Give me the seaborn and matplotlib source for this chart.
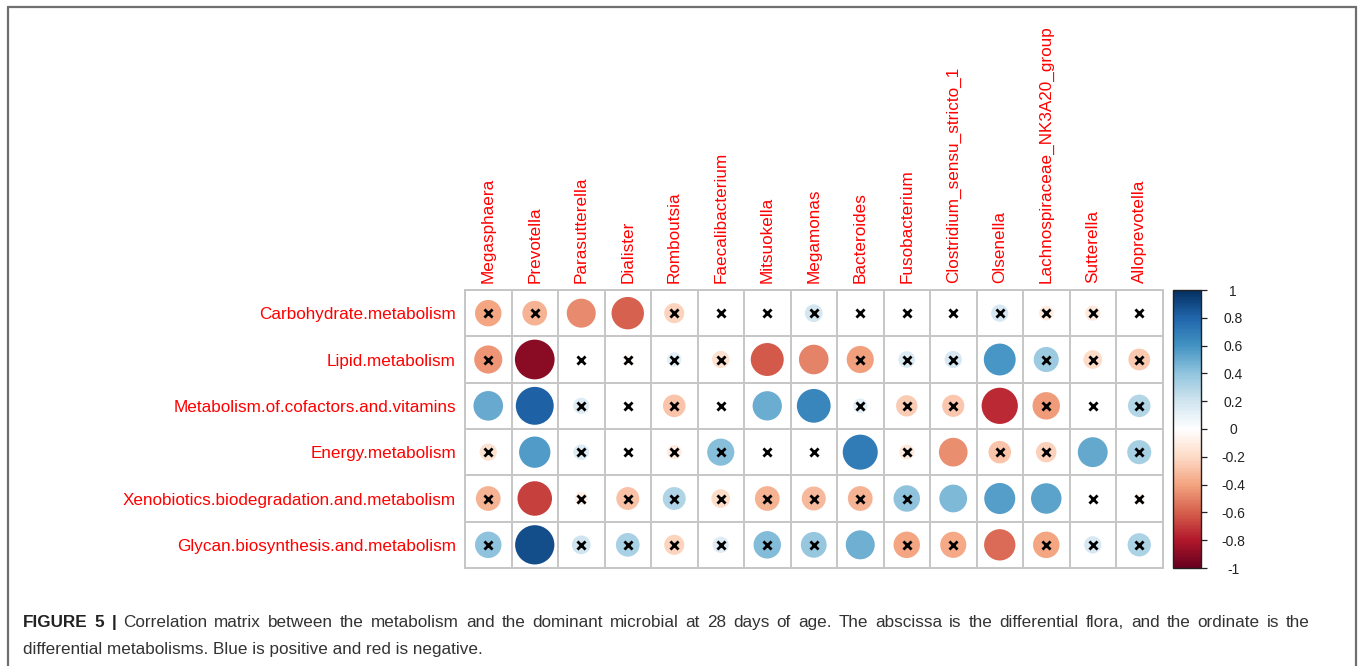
import numpy as np
import pandas as pd
import matplotlib
matplotlib.use("Agg")
import matplotlib.pyplot as plt
import matplotlib.colors as mcolors
from matplotlib.lines import Line2D
import seaborn as sns

sns.set_theme(style="white")
plt.rcParams["font.family"] = ["Liberation Sans", "DejaVu Sans"]

# ---- data -------------------------------------------------------------
metabolisms = [
    "Carbohydrate.metabolism",
    "Lipid.metabolism",
    "Metabolism.of.cofactors.and.vitamins",
    "Energy.metabolism",
    "Xenobiotics.biodegradation.and.metabolism",
    "Glycan.biosynthesis.and.metabolism",
]
genera = [
    "Megasphaera", "Prevotella", "Parasutterella", "Dialister", "Romboutsia",
    "Faecalibacterium", "Mitsuokella", "Megamonas", "Bacteroides",
    "Fusobacterium", "Clostridium_sensu_stricto_1", "Olsenella",
    "Lachnospiraceae_NK3A20_group", "Sutterella", "Alloprevotella",
]

r_carbohydrate = [-0.40, -0.35, -0.48, -0.60, -0.23, -0.02, 0.03, 0.18, 0.02, -0.02, 0.03, 0.17, -0.12, -0.13, 0.02]
r_lipid        = [-0.45, -0.90, 0.01, -0.06, 0.12, -0.17, -0.62, -0.50, -0.42, 0.16, 0.17, 0.58, 0.36, -0.20, -0.27]
r_cofactors    = [0.50, 0.82, 0.15, 0.03, -0.29, 0.02, 0.49, 0.65, 0.12, -0.26, -0.28, -0.75, -0.43, 0.02, 0.29]
r_energy       = [-0.17, 0.56, 0.14, 0.02, -0.12, 0.42, 0.01, -0.01, 0.70, -0.13, -0.47, -0.29, -0.24, 0.51, 0.33]
r_xenobiotics  = [-0.35, -0.68, -0.10, -0.30, 0.30, -0.20, -0.35, -0.33, -0.35, 0.40, 0.44, 0.55, 0.53, 0.02, -0.06]
r_glycan       = [0.40, 0.88, 0.20, 0.32, -0.23, 0.15, 0.43, 0.38, 0.48, -0.40, -0.39, -0.56, -0.40, 0.17, 0.31]

# 1 = not significant (crossed out)
ns_carbohydrate = [1, 1, 0, 0, 1, 1, 1, 1, 1, 1, 1, 1, 1, 1, 1]
ns_lipid        = [1, 0, 1, 1, 1, 1, 0, 0, 1, 1, 1, 0, 1, 1, 1]
ns_cofactors    = [0, 0, 1, 1, 1, 1, 0, 0, 1, 1, 1, 0, 1, 1, 1]
ns_energy       = [1, 0, 1, 1, 1, 1, 1, 1, 0, 1, 0, 1, 1, 0, 1]
ns_xenobiotics  = [1, 0, 1, 1, 1, 1, 1, 1, 1, 1, 0, 0, 0, 1, 1]
ns_glycan       = [1, 0, 1, 1, 1, 1, 1, 1, 0, 1, 1, 0, 1, 1, 1]

cbar_ticks = [-1, -0.8, -0.6, -0.4, -0.2, 0, 0.2, 0.4, 0.6, 0.8, 1]

caption_bold = "FIGURE 5 |"
caption_line1 = ("Correlation matrix between the metabolism and the dominant microbial at 28 days "
                 "of age. The abscissa is the differential flora, and the ordinate is the")
caption_line2 = "differential metabolisms. Blue is positive and red is negative."

# ---- long table ---------------------------------------------------------
r_rows = [r_carbohydrate, r_lipid, r_cofactors, r_energy, r_xenobiotics, r_glycan]
ns_rows = [ns_carbohydrate, ns_lipid, ns_cofactors, ns_energy, ns_xenobiotics, ns_glycan]
records = []
for i, (rv, nv) in enumerate(zip(r_rows, ns_rows)):
    for j, (r, n) in enumerate(zip(rv, nv)):
        records.append({"row": i, "col": j, "r": r, "absr": abs(r), "ns": n})
df = pd.DataFrame(records)

# corrplot-style red/blue ramp
cmap = mcolors.LinearSegmentedColormap.from_list(
    "corr_rdbu",
    ["#67001F", "#B2182B", "#D6604D", "#F4A582", "#FDDBC7", "#FFFFFF",
     "#D1E5F0", "#92C5DE", "#4393C3", "#2166AC", "#053061"], N=200)

# ---- figure -------------------------------------------------------------
W, H = 1360, 666
fig = plt.figure(figsize=(W / 100, H / 100), dpi=100)
fig.patch.set_facecolor("white")

gx0, gx1, gy0, gy1 = 465, 1162.5, 290, 568
ax = fig.add_axes([gx0 / W, 1 - gy1 / H, (gx1 - gx0) / W, (gy1 - gy0) / H])
ncol, nrow = len(genera), len(metabolisms)
ax.set_xlim(-0.5, ncol - 0.5)
ax.set_ylim(nrow - 0.5, -0.5)

# circle area proportional to |r|; max diameter 0.9 of a cell
cell_pt = (gx1 - gx0) / ncol * 72 / 100
smax = (0.9 * cell_pt) ** 2

sns.scatterplot(data=df, x="col", y="row", hue="r", size="absr",
                palette=cmap, hue_norm=(-1, 1), sizes=(0, smax), size_norm=(0, 1),
                linewidth=0, legend=False, ax=ax, zorder=3)
sns.scatterplot(data=df[df["ns"] == 1], x="col", y="row", marker="x",
                color="black", s=34, linewidth=2.0, legend=False, ax=ax, zorder=4)

# cell grid
grid_col = "#c6c6c6"
for k in np.arange(-0.5, ncol, 1):
    ax.axvline(k, color=grid_col, lw=1.4, zorder=1)
for k in np.arange(-0.5, nrow, 1):
    ax.axhline(k, color=grid_col, lw=1.4, zorder=1)
for sp in ax.spines.values():
    sp.set_color(grid_col)
    sp.set_linewidth(1.4)

ax.set_xlabel("")
ax.set_ylabel("")
ax.xaxis.tick_top()
ax.set_xticks(range(ncol))
ax.set_xticklabels(genera, rotation=90, color="red", fontsize=12.3)
ax.set_yticks(range(nrow))
ax.set_yticklabels(metabolisms, color="red", fontsize=12.3)
ax.tick_params(axis="x", length=0, pad=5)
ax.tick_params(axis="y", length=0, pad=6.5)
for lab in ax.get_xticklabels():
    lab.set_verticalalignment("bottom")

# colour legend
cax = fig.add_axes([1173 / W, 1 - gy1 / H, 27.5 / W, (gy1 - gy0) / H])
sm = plt.cm.ScalarMappable(norm=mcolors.Normalize(-1, 1), cmap=cmap)
cb = fig.colorbar(sm, cax=cax, ticks=cbar_ticks)
cb.outline.set_edgecolor("#222222")
cb.outline.set_linewidth(1.0)
cb.ax.set_yticklabels([f"{t:g}" for t in cbar_ticks])
cb.ax.tick_params(axis="y", length=4.5, width=0.9, color="#222222",
                  labelsize=10, pad=19, labelcolor="#222222")
for lab in cb.ax.get_yticklabels():
    lab.set_horizontalalignment("center")

# caption: first line justified across the text block, second line ragged
cap_col = "#333333"
cap_fs = 12.3
tx0, tx1 = 23, 1310
y1 = 1 - 627 / H
y2 = 1 - 654 / H
renderer = fig.canvas.get_renderer()

words = [(w, "bold") for w in caption_bold.split()] + \
        [(w, "normal") for w in caption_line1.split()]
widths = []
for w, wt in words:
    t = fig.text(0, 0, w, fontsize=cap_fs, fontweight=wt)
    widths.append(t.get_window_extent(renderer=renderer).width)
    t.remove()
gap = (tx1 - tx0 - sum(widths)) / (len(words) - 1)
xpos = tx0
for (w, wt), wd in zip(words, widths):
    fig.text(xpos / W, y1, w, fontsize=cap_fs, fontweight=wt,
             color="#222222" if wt == "bold" else cap_col, va="baseline")
    xpos += wd + gap
fig.text(tx0 / W, y2, caption_line2, fontsize=cap_fs, color=cap_col, va="baseline")

# panel frame
fc = "#6f6f6f"
fx0, fx1, fy = 7.5 / W, 1355.5 / W, 1 - 7 / H
fig.add_artist(Line2D([fx0, fx1], [fy, fy], transform=fig.transFigure, color=fc, lw=1.6))
fig.add_artist(Line2D([fx0, fx0], [0, fy], transform=fig.transFigure, color=fc, lw=1.6))
fig.add_artist(Line2D([fx1, fx1], [0, fy], transform=fig.transFigure, color=fc, lw=1.6))

fig.savefig("out.png", dpi=100, facecolor="white")
